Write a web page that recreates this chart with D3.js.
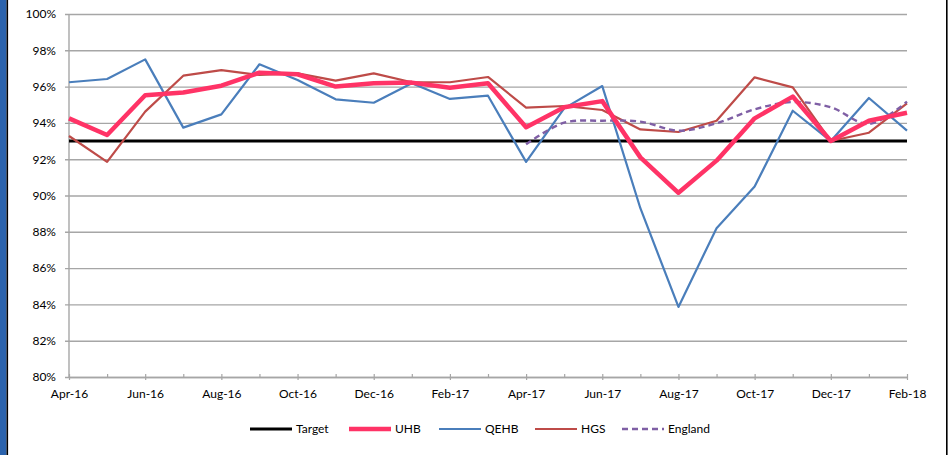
<!DOCTYPE html>
<html>
<head>
<meta charset="utf-8">
<script src="https://cdn.jsdelivr.net/npm/d3@7"></script>
<style>
  body { margin: 0; background: #fff; }
  svg { display: block; font-family: Lato, "Open Sans", sans-serif; }
</style>
</head>
<body>
<div id="chart"></div>
<script>
// Months Apr-16 .. Feb-18
const months = ["Apr-16","May-16","Jun-16","Jul-16","Aug-16","Sep-16","Oct-16","Nov-16","Dec-16","Jan-17","Feb-17","Mar-17",
  "Apr-17","May-17","Jun-17","Jul-17","Aug-17","Sep-17","Oct-17","Nov-17","Dec-17","Jan-18","Feb-18"];

const target = 93;
const uhb  = [94.25,93.33,95.52,95.67,96.05,96.77,96.68,96.0,96.18,96.22,95.94,96.18,
  93.76,94.86,95.2,92.1,90.15,91.92,94.25,95.45,93.0,94.12,94.56];
const qehb = [96.24,96.42,97.5,93.74,94.47,97.23,96.36,95.3,95.11,96.18,95.32,95.5,
  91.85,94.8,96.03,89.3,83.86,88.2,90.49,94.67,93.0,95.37,93.57];
const hgs  = [93.28,91.85,94.62,96.6,96.91,96.64,96.73,96.33,96.73,96.24,96.24,96.53,
  94.84,94.93,94.71,93.64,93.5,94.12,96.51,95.96,93.0,93.46,95.08];
const england = [null,null,null,null,null,null,null,null,null,null,null,null,
  92.82,94.01,94.12,94.07,93.57,93.98,94.75,95.15,94.86,93.94,95.17];

const yTicks = [80,82,84,86,88,90,92,94,96,98,100];

const W = 951, H = 455;
const svg = d3.select("#chart").append("svg").attr("width", W).attr("height", H);

// frame: blue strip on left, black rules
svg.append("rect").attr("x", 0).attr("y", 0).attr("width", 6.5).attr("height", H).attr("fill", "#2b63ad");
svg.append("rect").attr("x", 6.5).attr("y", 0).attr("width", 1.6).attr("height", H).attr("fill", "#000");
svg.append("rect").attr("x", 946).attr("y", 0).attr("width", 1.6).attr("height", H).attr("fill", "#000");

const x = d3.scalePoint().domain(months).range([69, 907]);
const y = d3.scaleLinear().domain([80, 100]).range([377, 14]);

// gridlines + y axis
const yAxis = svg.append("g").attr("transform", "translate(69,0)")
  .call(d3.axisLeft(y).tickValues(yTicks).tickSize(-(907 - 69)).tickPadding(13).tickFormat(d => d + "%"));
yAxis.select(".domain").remove();
yAxis.selectAll(".tick line").attr("stroke", "#a6a6a6").attr("stroke-width", 1.4).attr("x1", -4);
yAxis.selectAll(".tick text").attr("font-size", 12).attr("fill", "#000").attr("font-family", "Lato, sans-serif");

svg.append("line").attr("x1", 69).attr("x2", 69).attr("y1", 14).attr("y2", 377)
  .attr("stroke", "#a6a6a6").attr("stroke-width", 1.4);

// x axis
const xAxis = svg.append("g").attr("transform", "translate(0,377)")
  .call(d3.axisBottom(x).tickSize(0).tickPadding(12).tickFormat((d, i) => i % 2 === 0 ? d : ""));
xAxis.select(".domain").attr("stroke", "#a6a6a6").attr("stroke-width", 1.4);
xAxis.selectAll(".tick line").attr("stroke", "#a6a6a6").attr("stroke-width", 1.2)
  .attr("y1", -3)
  .attr("y2", (d, i) => i % 2 === 0 ? 3 : 0);
xAxis.selectAll(".tick text").attr("font-size", 12).attr("fill", "#000").attr("font-family", "Lato, sans-serif");

// target
svg.append("line").attr("x1", 69).attr("x2", 907).attr("y1", y(target)).attr("y2", y(target))
  .attr("stroke", "#000").attr("stroke-width", 3);

const line = d3.line().defined(d => d != null).x((d, i) => x(months[i])).y(d => y(d));
const smooth = d3.line().defined(d => d != null).x((d, i) => x(months[i])).y(d => y(d)).curve(d3.curveCatmullRom.alpha(0.5));

const series = [
  { name: "QEHB", data: qehb, color: "#4a7ebb", width: 2.2, gen: line },
  { name: "HGS", data: hgs, color: "#be4b48", width: 2.2, gen: line },
  { name: "England", data: england, color: "#7f5fa5", width: 2.4, dash: "6,4", gen: smooth },
  { name: "UHB", data: uhb, color: "#ff3366", width: 4.5, gen: line }
];

series.forEach(s => {
  svg.append("path").datum(s.data).attr("d", s.gen)
    .attr("fill", "none").attr("stroke", s.color).attr("stroke-width", s.width)
    .attr("stroke-linejoin", "round").attr("stroke-dasharray", s.dash || null);
});

// legend
const legend = [
  { name: "Target", color: "#000", width: 3, x: 250 },
  { name: "UHB", color: "#ff3366", width: 4.5, x: 349 },
  { name: "QEHB", color: "#4a7ebb", width: 2.2, x: 439 },
  { name: "HGS", color: "#be4b48", width: 2.2, x: 535 },
  { name: "England", color: "#7f5fa5", width: 2.4, x: 622, dash: "6,4" }
];
const lg = svg.append("g");
legend.forEach(l => {
  lg.append("line").attr("x1", l.x).attr("x2", l.x + 42).attr("y1", 429).attr("y2", 429)
    .attr("stroke", l.color).attr("stroke-width", l.width).attr("stroke-dasharray", l.dash || null);
  lg.append("text").attr("x", l.x + 46).attr("y", 433).text(l.name)
    .attr("font-size", 12).attr("fill", "#000");
});
</script>
</body>
</html>
